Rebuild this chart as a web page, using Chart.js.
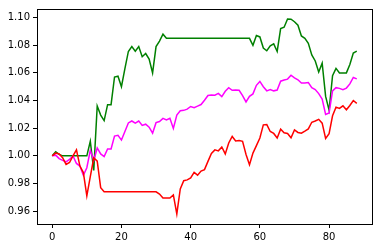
<!DOCTYPE html>
<html>
<head>
<meta charset="utf-8">
<script src="https://cdn.jsdelivr.net/npm/chart.js@4.4.0/dist/chart.umd.min.js"></script>
<style>
  body { margin: 0; background: #fff; }
  canvas { display: block; }
</style>
</head>
<body>
<canvas id="chart" width="378" height="248"></canvas>
<script>
const xTicks = [0, 20, 40, 60, 80];
const yTicks = [0.96, 0.98, 1.00, 1.02, 1.04, 1.06, 1.08, 1.10];

const green = [
  1.000, 1.003, 1.001, 1.000, 1.000, 1.000, 1.000, 1.000, 1.000, 1.000,
  1.000, 1.0105, 0.9895, 1.036, 1.0295, 1.0255, 1.037, 1.037, 1.057, 1.0576,
  1.050, 1.063, 1.0755, 1.079, 1.0757, 1.079, 1.0717, 1.074, 1.070, 1.060,
  1.079, 1.083, 1.088, 1.085, 1.085, 1.085, 1.085, 1.085, 1.085, 1.085,
  1.085, 1.085, 1.085, 1.085, 1.085, 1.085, 1.085, 1.085, 1.085, 1.085,
  1.085, 1.085, 1.085, 1.085, 1.085, 1.085, 1.085, 1.085, 1.080, 1.087,
  1.086, 1.078, 1.076, 1.0795, 1.081, 1.0755, 1.092, 1.093, 1.099, 1.0988,
  1.097, 1.0945, 1.0867, 1.085, 1.0814, 1.073, 1.0686, 1.0607, 1.067, 1.043,
  1.033, 1.058, 1.0633, 1.060, 1.060, 1.060, 1.066, 1.0743, 1.0757
];

const magenta = [
  1.000, 1.0005, 0.998, 0.9967, 0.9957, 0.9974, 1.000, 0.9945, 0.9926, 0.986,
  0.9914, 1.004, 0.9967, 1.0057, 1.0014, 0.9995, 1.005, 1.005, 1.0143, 1.0148,
  1.0114, 1.0176, 1.0238, 1.0252, 1.0236, 1.0252, 1.022, 1.0229, 1.0207, 1.0164,
  1.024, 1.0248, 1.0271, 1.026, 1.0271, 1.0198, 1.0295, 1.0326, 1.0329, 1.0338,
  1.0357, 1.0348, 1.036, 1.0371, 1.0402, 1.0436, 1.044, 1.0438, 1.0452, 1.0428,
  1.0467, 1.0493, 1.0474, 1.0476, 1.0474, 1.0436, 1.039, 1.043, 1.0448, 1.051,
  1.0538, 1.050, 1.047, 1.048, 1.047, 1.0476, 1.054, 1.0548, 1.0555, 1.0583,
  1.0564, 1.055, 1.0526, 1.0526, 1.053, 1.0493, 1.0479, 1.045, 1.041, 1.030,
  1.031, 1.047, 1.0493, 1.0488, 1.0479, 1.049, 1.052, 1.0567, 1.0557
];

const red = [
  1.000, 1.002, 1.0014, 0.9986, 0.9938, 0.9952, 1.000, 1.0043, 0.9926, 0.9879,
  0.971, 0.985, 0.9986, 0.9962, 0.977, 0.974, 0.974, 0.974, 0.974, 0.974,
  0.974, 0.974, 0.974, 0.974, 0.974, 0.974, 0.974, 0.974, 0.974, 0.974,
  0.974, 0.9724, 0.9695, 0.9695, 0.9695, 0.9717, 0.958, 0.976, 0.982, 0.9826,
  0.984, 0.988, 0.986, 0.989, 0.990, 0.996, 1.0017, 1.0043, 1.0036, 1.0064,
  1.0014, 1.0093, 1.014, 1.0107, 1.011, 1.0105, 1.001, 0.9936, 1.002, 1.0074,
  1.0129, 1.0224, 1.0226, 1.0176, 1.0162, 1.0129, 1.0193, 1.0167, 1.0162, 1.0131,
  1.0188, 1.0169, 1.0164, 1.0179, 1.0195, 1.0243, 1.0252, 1.0264, 1.0236, 1.0126,
  1.016, 1.029, 1.0352, 1.0343, 1.0362, 1.0333, 1.0364, 1.040, 1.038
];

const toPoints = (arr) => arr.map((v, i) => ({ x: i, y: v }));

// box around the plot area, like matplotlib spines
const frame = {
  id: "frame",
  afterDraw(chart) {
    const { ctx, chartArea } = chart;
    ctx.save();
    ctx.strokeStyle = "#000";
    ctx.lineWidth = 1;
    ctx.strokeRect(
      Math.round(chartArea.left) + 0.5,
      Math.round(chartArea.top) + 0.5,
      Math.round(chartArea.right - chartArea.left),
      Math.round(chartArea.bottom - chartArea.top)
    );
    ctx.restore();
  },
};

const tickFont = { family: "DejaVu Sans", size: 10 };

new Chart(document.getElementById("chart"), {
  type: "line",
  data: {
    datasets: [
      { data: toPoints(red), borderColor: "#ff0000" },
      { data: toPoints(magenta), borderColor: "#ff00ff" },
      { data: toPoints(green), borderColor: "#008000" },
    ],
  },
  options: {
    responsive: false,
    animation: false,
    layout: { padding: { top: 6, right: 6, left: 0, bottom: 0 } },
    elements: {
      line: { borderWidth: 1.5, tension: 0, fill: false },
      point: { radius: 0 },
    },
    plugins: { legend: { display: false }, tooltip: { enabled: false } },
    scales: {
      x: {
        type: "linear",
        min: -4.4,
        max: 92.4,
        afterBuildTicks: (axis) => {
          axis.ticks = xTicks.map((v) => ({ value: v }));
        },
        afterFit: (axis) => {
          axis.height = 24;
        },
        grid: { drawOnChartArea: false, drawTicks: true, tickLength: 4, color: "#000" },
        border: { display: true, color: "#000" },
        ticks: { color: "#000", font: tickFont, padding: 3, maxRotation: 0 },
      },
      y: {
        type: "linear",
        min: 0.9507,
        max: 1.1062,
        afterBuildTicks: (axis) => {
          axis.ticks = yTicks.map((v) => ({ value: v }));
        },
        afterFit: (axis) => {
          axis.width = 37;
        },
        grid: { drawOnChartArea: false, drawTicks: true, tickLength: 4, color: "#000" },
        border: { display: true, color: "#000" },
        ticks: {
          color: "#000",
          font: tickFont,
          padding: 3,
          callback: (v) => v.toFixed(2),
        },
      },
    },
  },
  plugins: [frame],
});
</script>
</body>
</html>
